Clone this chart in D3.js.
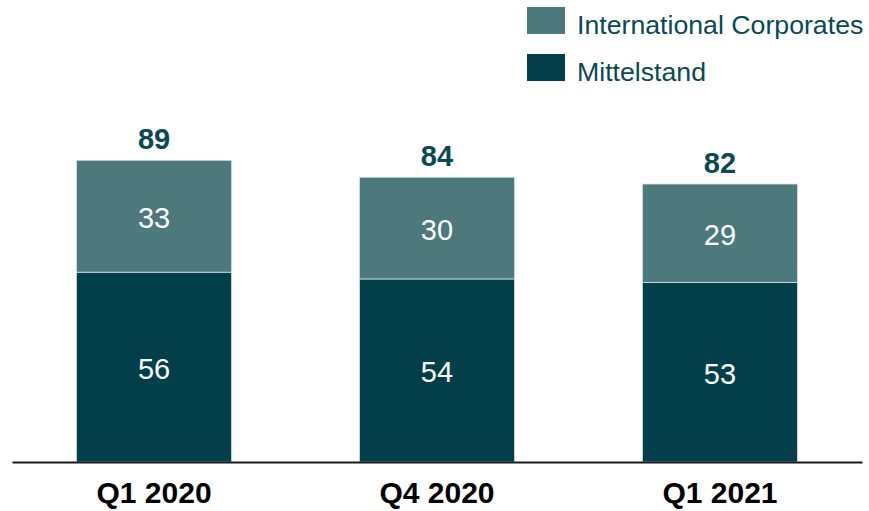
<!DOCTYPE html>
<html>
<head>
<meta charset="utf-8">
<script src="https://cdn.jsdelivr.net/npm/d3@7"></script>
<style>
  body { margin: 0; background: #fff; }
  svg { display: block; font-family: 'Liberation Sans', Arial, sans-serif; }
</style>
</head>
<body>
<div id="chart"></div>
<script>
const quarters = ['Q1 2020', 'Q4 2020', 'Q1 2021'];
const mittelstand = [56, 54, 53];
const international = [33, 30, 29];
const totals = [89, 84, 82];
const seriesNames = ['International Corporates', 'Mittelstand'];

const width = 869;
const height = 511;
const colors = {
  international: '#4e797c',
  mittelstand: '#033f4a',
  text: '#0b4853',
};

const data = quarters.map((q, i) => ({
  quarter: q,
  mittelstand: mittelstand[i],
  international: international[i],
  total: totals[i],
}));

const svg = d3.select('#chart')
  .append('svg')
    .attr('width', width)
    .attr('height', height)
    .attr('viewBox', `0 0 ${width} ${height}`);

// scales
const scaleX = d3.scaleBand()
  .domain(quarters)
  .range([12, 862])
  .paddingInner(0.452)
  .paddingOuter(0.228);

const scaleY = d3.scaleLinear()
  .domain([0, 100])
  .range([462, 123]);

const stack = d3.stack().keys(['mittelstand', 'international']);
const layers = stack(data);

// bars
svg.append('g')
  .selectAll('g')
  .data(layers)
  .enter()
  .append('g')
    .attr('fill', d => colors[d.key])
  .selectAll('rect')
  .data(d => d)
  .enter()
  .append('rect')
    .attr('x', d => scaleX(d.data.quarter))
    .attr('y', d => scaleY(d[1]))
    .attr('width', scaleX.bandwidth())
    .attr('height', d => scaleY(d[0]) - scaleY(d[1]))
    .attr('stroke', '#d6e0e0')
    .attr('stroke-width', 0.8);

// segment labels
layers.forEach(layer => {
  svg.append('g')
    .selectAll('text')
    .data(layer)
    .enter()
    .append('text')
      .attr('x', d => scaleX(d.data.quarter) + scaleX.bandwidth() / 2)
      .attr('y', d => (scaleY(d[0]) + scaleY(d[1])) / 2)
      .attr('dy', '0.4em')
      .attr('text-anchor', 'middle')
      .attr('fill', '#fff')
      .style('font-size', '29px')
      .text(d => d[1] - d[0]);
});

// totals
svg.append('g')
  .selectAll('text')
  .data(data)
  .enter()
  .append('text')
    .attr('x', d => scaleX(d.quarter) + scaleX.bandwidth() / 2)
    .attr('y', d => scaleY(d.total) - 11)
    .attr('text-anchor', 'middle')
    .attr('fill', colors.text)
    .style('font-size', '29px')
    .style('font-weight', 'bold')
    .text(d => d.total);

// x axis
const axisX = d3.axisBottom(scaleX)
  .tickSize(0)
  .tickSizeOuter(0)
  .tickPadding(20);

const gx = svg.append('g')
  .attr('transform', `translate(0, ${scaleY(0)})`)
  .call(axisX);

gx.select('.domain')
  .attr('stroke', '#1a1a1a')
  .attr('stroke-width', 2);

gx.selectAll('.tick text')
  .attr('fill', '#000')
  .style('font-family', "'Liberation Sans', Arial, sans-serif")
  .style('font-size', '30px')
  .style('font-weight', 'bold');

// legend
const legend = svg.append('g')
  .attr('transform', 'translate(527, 7)');

const legendItems = legend.selectAll('g')
  .data(seriesNames)
  .enter()
  .append('g')
    .attr('transform', (d, i) => `translate(0, ${i * 47})`);

legendItems.append('rect')
  .attr('width', 38)
  .attr('height', 27)
  .attr('fill', (d, i) => (i === 0 ? colors.international : colors.mittelstand));

legendItems.append('text')
  .attr('x', 50)
  .attr('y', 27)
  .attr('fill', colors.text)
  .style('font-size', '26.7px')
  .text(d => d);
</script>
</body>
</html>
